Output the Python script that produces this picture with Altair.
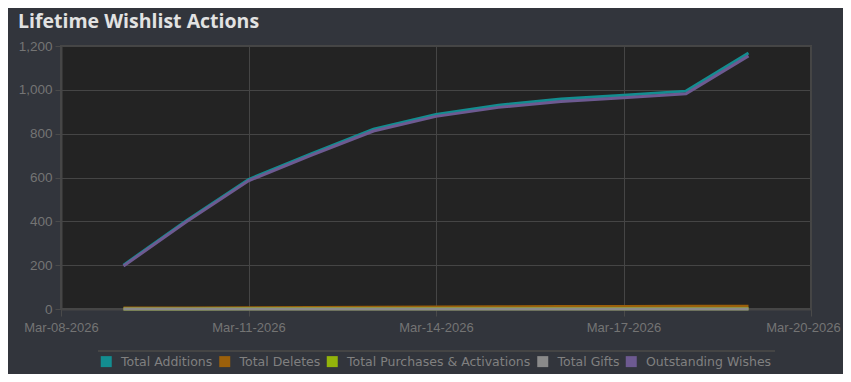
import altair as alt
import pandas as pd

dates = ["2026-03-09", "2026-03-10", "2026-03-11", "2026-03-12", "2026-03-13", "2026-03-14",
         "2026-03-15", "2026-03-16", "2026-03-17", "2026-03-18", "2026-03-19"]
total_additions = [200, 402, 591, 708, 820, 888, 930, 958, 975, 994, 1168]
total_deletes = [4, 5, 6, 7, 8, 9, 10, 11, 11, 12, 13]
total_purchases = [0, 0, 1, 1, 1, 1, 1, 1, 1, 1, 1]
total_gifts = [0, 0, 0, 0, 0, 0, 0, 0, 0, 0, 0]
outstanding_wishes = [196, 397, 585, 701, 812, 879, 920, 947, 964, 982, 1155]

series_names = ["Total Additions", "Total Deletes", "Total Purchases & Activations",
                "Total Gifts", "Outstanding Wishes"]
series_colors = ["#138d90", "#9b600b", "#93b40b", "#8a8a8a", "#6d5a91"]
series_values = [total_additions, total_deletes, total_purchases, total_gifts, outstanding_wishes]

y_ticks = [0, 200, 400, 600, 800, 1000, 1200]
x_tick_days = [8, 11, 14, 17, 20]

rows = []
for name, vals in zip(series_names, series_values):
    for d, v in zip(dates, vals):
        rows.append({"date": d, "value": v, "series": name})
df = pd.DataFrame(rows)

x_vals = [alt.DateTime(year=2026, month=3, date=d, utc=True) for d in x_tick_days]

lines = alt.Chart(df).mark_line(strokeWidth=3, interpolate="linear").encode(
    x=alt.X("date:T",
            scale=alt.Scale(type="utc", domain=[x_vals[0], x_vals[-1]], nice=False),
            axis=alt.Axis(values=x_vals, labelExpr="utcFormat(datum.value, '%b-%d-%Y')",
                          title=None,
                          labelFont="Liberation Sans", labelFontSize=13, labelColor="#747474",
                          labelOffset={"condition": {"test": "datum.index >= 0.99", "value": -8},
                                       "value": 0},
                          tickColor="#4a4a4a", tickSize=7, labelPadding=5,
                          domainColor="#464646", domainWidth=2,
                          gridColor="#454545", labelFlush=False)),
    y=alt.Y("value:Q",
            scale=alt.Scale(domain=[0, 1200], nice=False),
            axis=alt.Axis(values=y_ticks, labelExpr="format(datum.value, ',')", title=None,
                          labelFont="Liberation Sans", labelFontSize=13.5, labelColor="#747474",
                          tickColor="#4a4a4a", tickSize=6, labelPadding=3,
                          domainColor="#464646", domainWidth=2,
                          gridColor="#454545")),
    color=alt.Color("series:N",
                    scale=alt.Scale(domain=series_names, range=series_colors),
                    sort=series_names,
                    legend=alt.Legend(title=None, orient="none", legendX=39, legendY=309,
                                      direction="horizontal", columns=5,
                                      symbolType="square", symbolSize=4,
                                      symbolStrokeWidth=9, symbolOpacity=1,
                                      labelFont="DejaVu Sans", labelFontSize=12.5,
                                      labelColor="#808080", labelOffset=8.5,
                                      labelLimit=0, columnPadding=-7.5)),
)

sep = alt.Chart(df).mark_rule(color="#474747", strokeWidth=1).encode(
    x=alt.value(37), x2=alt.value(714), y=alt.value(305)
)

chart = alt.layer(lines, sep).properties(
    width=750, height=263,
    autosize=alt.AutoSizeParams(type="none"),
    padding={"left": 53, "top": 38, "right": 32, "bottom": 65},
    background="#32353c",
    title=alt.TitleParams("Lifetime Wishlist Actions", anchor="start", frame="group",
                          dx=-43, offset=7, font="Open Sans", fontSize=19.5,
                          fontWeight="bold", color="#e2e2e2"),
).configure_view(fill="#232323", stroke="#464646", strokeWidth=2)

chart.save("out.html", embed_options={"renderer": "svg", "actions": False})
